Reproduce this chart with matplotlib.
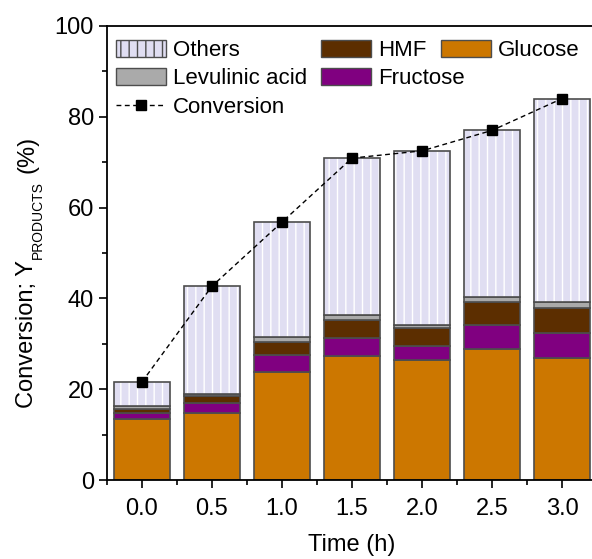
import numpy as np
import matplotlib
matplotlib.use("Agg")
import matplotlib.pyplot as plt
from matplotlib.patches import Patch
from matplotlib.lines import Line2D
from matplotlib.ticker import MultipleLocator, FormatStrFormatter
from matplotlib.transforms import IdentityTransform

plt.rcParams['font.family'] = ['Liberation Sans', 'DejaVu Sans']
plt.rcParams['hatch.linewidth'] = 1.0

# reaction time (h) and yields (%)
time_h = [0.0, 0.5, 1.0, 1.5, 2.0, 2.5, 3.0]
glucose = [13.4, 14.8, 23.8, 27.3, 26.4, 28.9, 26.8]
fructose = [1.3, 2.1, 3.7, 3.9, 3.1, 5.2, 5.6]
hmf = [1.0, 1.6, 2.9, 4.1, 4.0, 5.1, 5.5]
levulinic = [0.5, 0.5, 1.0, 1.1, 0.6, 1.1, 1.2]
others = [5.4, 23.7, 25.4, 34.5, 38.4, 36.7, 44.9]
conversion = [21.6, 42.7, 56.8, 70.9, 72.5, 77.0, 84.0]

c_glu = '#cc7700'
c_fru = '#800080'
c_hmf = '#5c2e00'
c_la = '#aaaaaa'
c_oth = '#e0def2'
edge = '#4d4d4d'

fig = plt.figure(figsize=(5.92, 5.59), dpi=100)
ax = fig.add_axes([0.1807, 0.1413, 0.8277, 0.8122])

t = np.array(time_h)
w = 0.4
bottom = np.zeros(len(t))
for vals, col in [(glucose, c_glu), (fructose, c_fru), (hmf, c_hmf), (levulinic, c_la)]:
    ax.bar(t, vals, w, bottom=bottom, color=col, edgecolor=edge, linewidth=1.2, zorder=2)
    bottom += np.array(vals)

# others: white vertical hatch, then a separate outline on top
ax.bar(t, others, w, bottom=bottom, color=c_oth, edgecolor='white', linewidth=0, hatch='||', zorder=2)
ax.bar(t, others, w, bottom=bottom, fill=False, edgecolor=edge, linewidth=1.2, zorder=3)

ax.plot(t, conversion, color='black', linestyle=(0, (3.5, 2.5)), linewidth=1.0,
        marker='s', markersize=6.5, markerfacecolor='black', markeredgecolor='black', zorder=5)

ax.set_xlim(-0.25, 3.25)
ax.set_ylim(0, 100)
ax.xaxis.set_major_locator(MultipleLocator(0.5))
ax.xaxis.set_minor_locator(MultipleLocator(0.25))
ax.xaxis.set_major_formatter(FormatStrFormatter('%.1f'))
ax.yaxis.set_major_locator(MultipleLocator(20))
ax.yaxis.set_minor_locator(MultipleLocator(10))
ax.tick_params(which='major', direction='out', length=6, width=1.2, labelsize=17)
ax.tick_params(axis='x', which='major', pad=7)
ax.tick_params(which='minor', direction='out', length=3.5, width=1.2)
for s in ax.spines.values():
    s.set_linewidth(1.3)

ax.set_xlabel('Time (h)', fontsize=17, labelpad=10)

blank = Patch(visible=False)
h_oth = Patch(facecolor=c_oth, edgecolor=edge, hatch='||', linewidth=1.0)
h_la = Patch(facecolor=c_la, edgecolor=edge, linewidth=1.0)
h_hmf = Patch(facecolor=c_hmf, edgecolor=edge, linewidth=1.0)
h_fru = Patch(facecolor=c_fru, edgecolor=edge, linewidth=1.0)
h_glu = Patch(facecolor=c_glu, edgecolor=edge, linewidth=1.0)
h_conv = Line2D([], [], color='black', linestyle=(0, (3.5, 2.5)), linewidth=1.0,
                marker='s', markersize=6.5, markerfacecolor='black')

leg_kw = dict(frameon=False, fontsize=16, handlelength=2.25, handleheight=0.8,
              handletextpad=0.32, labelspacing=0.33, borderpad=0, borderaxespad=0,
              loc='upper left')
leg1 = ax.legend([h_oth, h_la, h_conv, h_hmf, h_fru, blank],
                 ['Others', 'Levulinic acid', 'Conversion', 'HMF', 'Fructose', ''],
                 ncol=2, columnspacing=0.65, bbox_to_anchor=(0.018, 0.970), **leg_kw)
ax.add_artist(leg1)
ax.legend([h_glu], ['Glucose'], bbox_to_anchor=(0.682, 0.970), **leg_kw)

# y label built from pieces so the subscript can be smaller than mathtext allows
fig.canvas.draw()
renderer = fig.canvas.get_renderer()
H = fig.bbox.height
parts = [('Conversion; Y', 17, 33, 1), ('PRODUCTS', 10, 42, 8), ('(%)', 17, 33, 0)]
ypos = H - 408
for txt, size, xb, gap in parts:
    tx = fig.text(xb, ypos, txt, fontsize=size, rotation=90, rotation_mode='anchor',
                  ha='left', va='baseline', transform=IdentityTransform())
    ypos += tx.get_window_extent(renderer).height + gap

fig.savefig('out.png', dpi=100)
